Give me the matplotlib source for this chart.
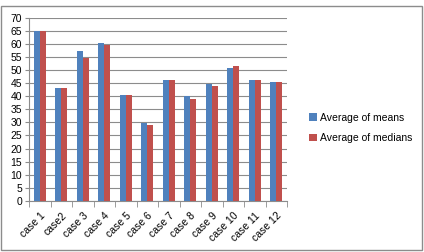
import numpy as np
import matplotlib
matplotlib.use("Agg")
from matplotlib import pyplot as plt
from matplotlib.patches import Rectangle

cases = ["case 1", "case2", "case 3", "case 4", "case 5", "case 6",
         "case 7", "case 8", "case 9", "case 10", "case 11", "case 12"]
means = [65, 43, 57.3, 60.3, 40.5, 29.9, 46.3, 40.1, 44.5, 50.8, 46.3, 45.3]
medians = [65, 43, 54.5, 59.7, 40.5, 29.1, 46.3, 39.0, 43.8, 51.5, 46.3, 45.3]

plt.rcParams['font.family'] = ['Liberation Sans', 'DejaVu Sans']

fig = plt.figure(figsize=(4.24, 2.52), dpi=100)
ax = fig.add_axes([29 / 424, 1 - 201 / 252, (287 - 29) / 424, (201 - 17.5) / 252])

x = np.arange(len(cases))
w = 0.286
ax.bar(x - w / 2, means, w, color="#4F81BD", label="Average of means", zorder=3)
ax.bar(x + w / 2, medians, w, color="#C0504D", label="Average of medians", zorder=3)

ax.set_xlim(-0.5, len(cases) - 0.5)
ax.set_ylim(0, 70)
ax.set_yticks(range(0, 71, 5))
ax.yaxis.grid(True, color="#8c8c8c", linewidth=0.8, zorder=0)
ax.tick_params(axis="y", labelsize=7.5, length=3, color="#8c8c8c", pad=2)

ax.set_xticks(x)
ax.set_xticklabels(cases, rotation=45, ha="right", rotation_mode="anchor", fontsize=7.5)
ax.tick_params(axis="x", length=0, pad=7)
ax.set_xticks(np.arange(-0.5, len(cases)), minor=True)
ax.tick_params(axis="x", which="minor", length=4, color="#8c8c8c")

for s in ["top", "right"]:
    ax.spines[s].set_visible(False)
for s in ["left", "bottom"]:
    ax.spines[s].set_color("#8c8c8c")

ax.legend(loc="center left", bbox_to_anchor=(300 / 424, 1 - 128 / 252),
          bbox_transform=fig.transFigure, frameon=False, fontsize=7.5,
          handlelength=0.7, handleheight=0.7, handletextpad=0.3, labelspacing=1.0)

# outer chart border
fig.patches.append(Rectangle((0.002, 0.006), 0.993, 0.97, transform=fig.transFigure,
                             fill=False, edgecolor="#8c8c8c", linewidth=1.0))

fig.savefig("out.png", dpi=100)
